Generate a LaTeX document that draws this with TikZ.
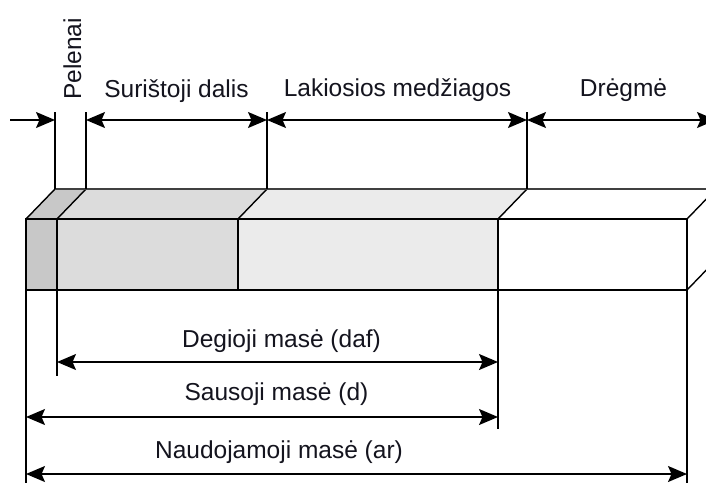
\documentclass[tikz,border=0pt]{standalone}
\usepackage{fontspec}
\setmainfont{Liberation Sans}
\usetikzlibrary{arrows.meta}
\definecolor{ashc}{HTML}{C8C8C8}
\definecolor{bindc}{HTML}{DCDCDC}
\definecolor{volc}{HTML}{EBEBEB}
\definecolor{txtc}{HTML}{14141E}
\tikzset{
  tip/.tip={Stealth[length=19pt,width=16pt,inset=3.5pt]},
  edge/.style={line width=1.4pt, line join=miter},
  dim/.style={line width=1.4pt, tip-tip},
  dimr/.style={line width=1.4pt, -tip},
  lbl/.style={inner sep=0pt, text=txtc, font=\fontsize{24.5}{29}\selectfont},
}
\begin{document}
\begin{tikzpicture}[x=1pt,y=-1pt]
\useasboundingbox (0,0) rectangle (706,482);
\clip (0,0) rectangle (706,482);
\fill[white] (0,0) rectangle (706,482);
% front corners
\coordinate (f0t) at (26,219);  \coordinate (f0b) at (26,290);
\coordinate (f1t) at (57,219);  \coordinate (f1b) at (57,290);
\coordinate (f2t) at (238,219); \coordinate (f2b) at (238,290);
\coordinate (f3t) at (498,219); \coordinate (f3b) at (498,290);
\coordinate (f4t) at (687,219); \coordinate (f4b) at (687,290);
% back corners
\coordinate (b0) at (55,189);
\coordinate (b1) at (86,189);
\coordinate (b2) at (267,189);
\coordinate (b3) at (527,189);
\coordinate (b4) at (716,189);
\coordinate (b4b) at (716,260);
% fills
\fill[ashc] (f0t) -- (b0) -- (b1) -- (f1t) -- (f1b) -- (f0b) -- cycle;
\fill[bindc] (f1t) -- (b1) -- (b2) -- (f2t) -- (f2b) -- (f1b) -- cycle;
\fill[volc] (f2t) -- (b2) -- (b3) -- (f3t) -- (f3b) -- (f2b) -- cycle;
\fill[white] (f3t) -- (b3) -- (b4) -- (b4b) -- (f4b) -- (f3b) -- cycle;
% edges
\draw[edge] (f0t) rectangle (f4b);
\draw[edge] (f2t) -- (f2b);
\draw[edge] (f0t) -- (b0);
\draw[edge] (f1t) -- (b1);
\draw[edge] (f2t) -- (b2);
\draw[edge] (f3t) -- (b3);
\draw[edge] (f4t) -- (b4);
\draw[edge] (f4b) -- (b4b);
\draw[edge] (b4) -- (b4b);
\draw[edge, black!75] (b0) -- (b4);
% extension lines
\coordinate (e0) at (55,112);
\coordinate (e1) at (86,112);
\coordinate (e2) at (267,112);
\coordinate (e3) at (527,112);
\draw[edge] (b0) -- (e0);
\draw[edge] (b1) -- (e1);
\draw[edge] (b2) -- (e2);
\draw[edge] (b3) -- (e3);
\coordinate (d1) at (57,376);
\coordinate (d3) at (498,429);
\coordinate (d0) at (26,490);
\coordinate (d4) at (687,490);
\draw[edge] (f1t) -- (d1);
\draw[edge] (f3t) -- (d3);
\draw[edge] (f0t) -- (d0);
\draw[edge] (f4t) -- (d4);
% top dimension arrows
\coordinate (a0) at (10,120);
\coordinate (a1) at (55,120);
\coordinate (a2) at (86,120);
\coordinate (a3) at (267,120);
\coordinate (a4) at (527,120);
\coordinate (a5) at (716,120);
\draw[dimr] (a0) -- (a1);
\draw[dim] (a2) -- (a3);
\draw[dim] (a3) -- (a4);
\draw[dim] (a4) -- (a5);
% bottom dimension arrows
\coordinate (g1) at (57,362);  \coordinate (g2) at (498,362);
\coordinate (s1) at (26,417);  \coordinate (s2) at (498,417);
\coordinate (n1) at (26,474);  \coordinate (n2) at (687,474);
\draw[dim] (g1) -- (g2);
\draw[dim] (s1) -- (s2);
\draw[dim] (n1) -- (n2);
% labels
\node[lbl, rotate=90, anchor=base west] (pel) at (81,100) {Pelenai};
\node[lbl, anchor=base] (sur) at (176.5,97) {Surištoji dalis};
\node[lbl, anchor=base] (lak) at (397.5,96) {Lakiosios medžiagos};
\node[lbl, anchor=base] (dre) at (623.5,96) {Drėgmė};
\node[lbl, anchor=base] (deg) at (281.5,347) {Degioji masė (daf)};
\node[lbl, anchor=base] (sau) at (276.5,400) {Sausoji masė (d)};
\node[lbl, anchor=base] (nau) at (279,458) {Naudojamoji masė (ar)};
\end{tikzpicture}
\end{document}
